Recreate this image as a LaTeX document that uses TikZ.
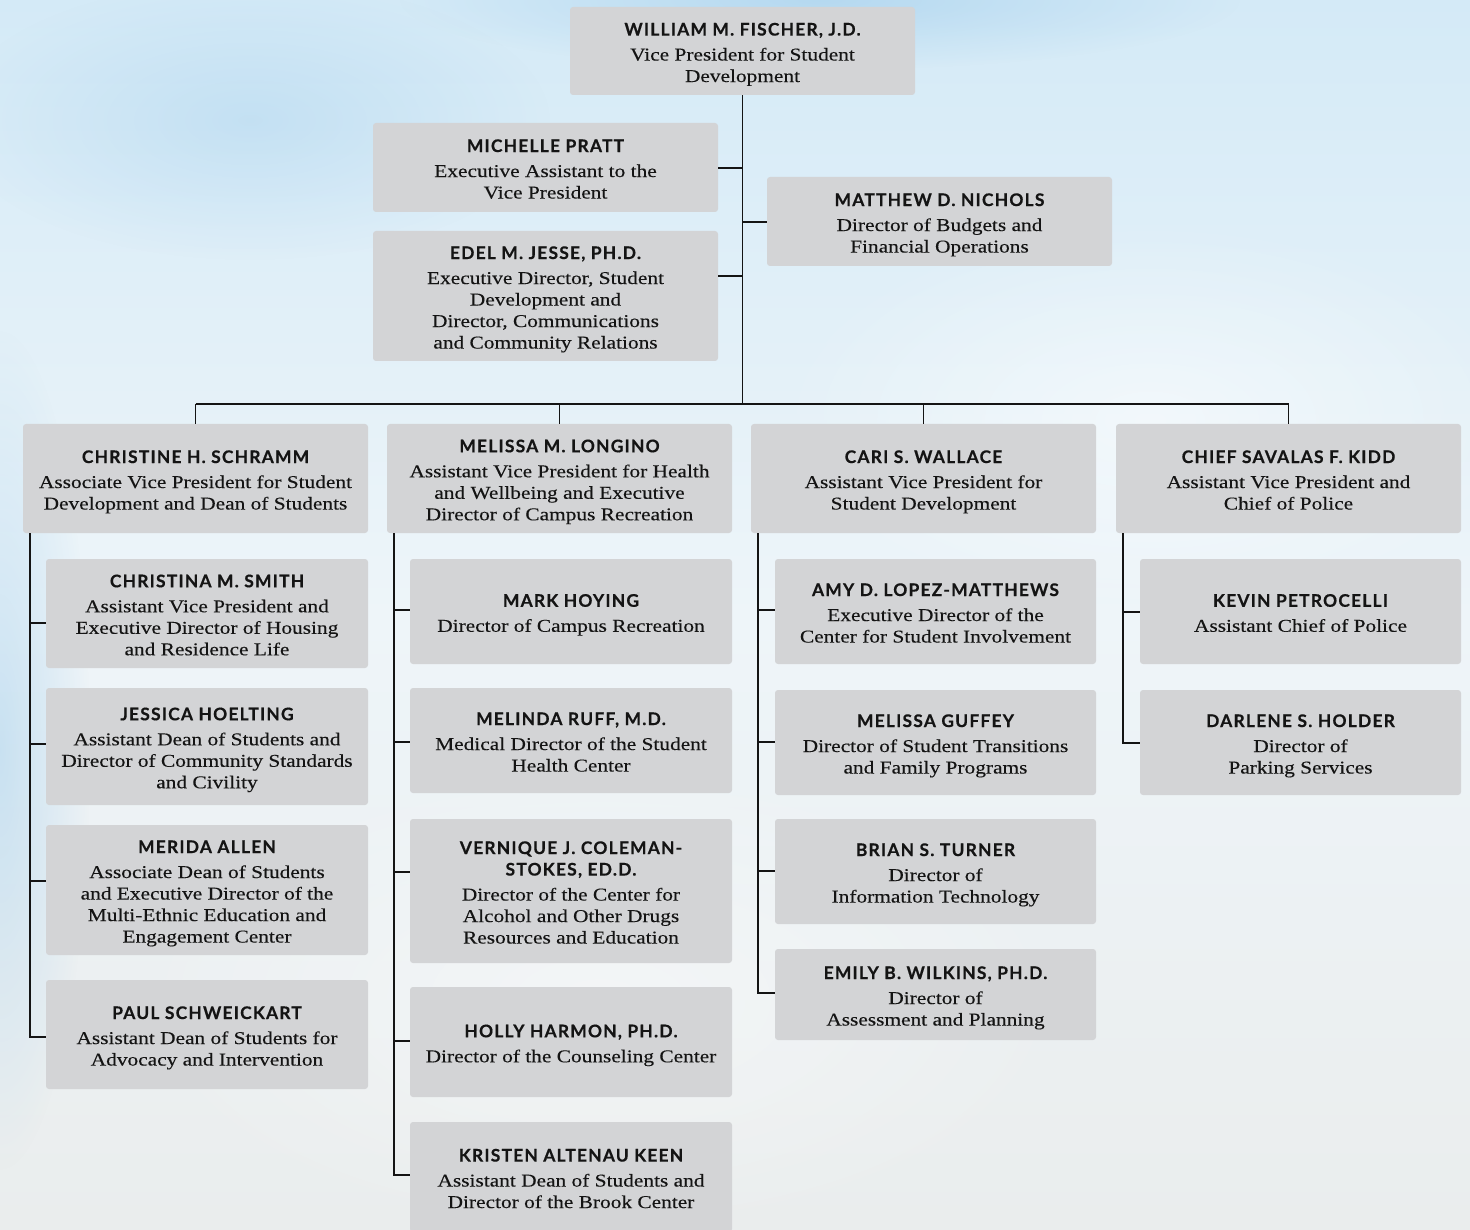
\documentclass[tikz,border=0pt]{standalone}
\usepackage{fontspec}
\setmainfont{Liberation Serif}[FakeStretch=1.18,FakeBold=0.25]
\newfontfamily\namefont{Lato}[LetterSpace=7,FakeBold=0.5]
\usetikzlibrary{fadings}
\definecolor{boxgray}{HTML}{D3D4D6}
\definecolor{ink}{HTML}{141414}
\definecolor{skytop}{HTML}{D4EAF7}
\definecolor{skymid}{HTML}{EEF5F9}
\definecolor{skybot}{HTML}{EAEDED}
\definecolor{skyblue}{HTML}{9CCBEB}
\tikzfading[name=softedge, inner color=transparent!0, outer color=transparent!100]
\tikzset{
  box/.style={fill=boxgray, rounded corners=3pt, inner sep=0pt,
    text=ink, font=\fontsize{18.1}{21.5}\selectfont},
  conn/.style={draw=ink, line width=1.8pt},
  blob/.style={path fading=softedge},
}
\newcommand{\nm}[1]{{\namefont\bfseries\fontsize{17.4}{21.5}\selectfont #1}\\[3.5pt]}
\newcommand{\nmm}[1]{{\namefont\bfseries\fontsize{17.4}{21.5}\selectfont #1}\\}
\newcommand{\orgbox}[6]{\node[box, minimum width={#4-#2}, minimum height={#5-#3}] (#1) at ({(#2+#4)/2},{(#3+#5)/2})
  {\raisebox{-3.5pt}[\height][\depth]{\begin{tabular}{@{}c@{}}#6\end{tabular}}};}
\begin{document}
\begin{tikzpicture}[x=1pt,y=-1pt]
% background sky
\fill[top color=skytop, bottom color=skybot, middle color=skymid] (0,0) rectangle (1470,1230);
\useasboundingbox (0,0) rectangle (1470,1230);
\fill[skyblue, opacity=0.55, blob] (820,0) ellipse (420 and 70);
\fill[skyblue, opacity=0.35, blob] (250,120) ellipse (300 and 140);
\fill[skyblue, opacity=0.45, blob] (0,750) ellipse (90 and 420);
\fill[white, opacity=0.5, blob] (1150,420) ellipse (380 and 200);
\fill[white, opacity=0.4, blob] (600,1000) ellipse (500 and 250);

% level 0 / staff
\orgbox{fischer}{570}{7}{915}{95}{\nm{WILLIAM M. FISCHER, J.D.}Vice President for Student\\Development}
\orgbox{pratt}{373}{123}{718}{212}{\nm{MICHELLE PRATT}Executive Assistant to the\\Vice President}
\orgbox{jesse}{373}{231}{718}{361}{\nm{EDEL M. JESSE, PH.D.}Executive Director, Student\\Development and\\Director, Communications\\and Community Relations}
\orgbox{nichols}{767}{177}{1112}{266}{\nm{MATTHEW D. NICHOLS}Director of Budgets and\\Financial Operations}

% level 1
\orgbox{schramm}{23}{424}{368}{533}{\nm{CHRISTINE H. SCHRAMM}Associate Vice President for Student\\Development and Dean of Students}
\orgbox{longino}{387}{424}{732}{533}{\nm{MELISSA M. LONGINO}Assistant Vice President for Health\\and Wellbeing and Executive\\Director of Campus Recreation}
\orgbox{wallace}{751}{424}{1096}{533}{\nm{CARI S. WALLACE}Assistant Vice President for\\Student Development}
\orgbox{kidd}{1116}{424}{1461}{533}{\nm{CHIEF SAVALAS F. KIDD}Assistant Vice President and\\Chief of Police}

% column 1
\orgbox{smith}{46}{559}{368}{668}{\nm{CHRISTINA M. SMITH}Assistant Vice President and\\Executive Director of Housing\\and Residence Life}
\orgbox{hoelting}{46}{688}{368}{805}{\nm{JESSICA HOELTING}Assistant Dean of Students and\\Director of Community Standards\\and Civility}
\orgbox{allen}{46}{825}{368}{955}{\nm{MERIDA ALLEN}Associate Dean of Students\\and Executive Director of the\\Multi-Ethnic Education and\\Engagement Center}
\orgbox{schweickart}{46}{980}{368}{1089}{\nm{PAUL SCHWEICKART}Assistant Dean of Students for\\Advocacy and Intervention}

% column 2
\orgbox{hoying}{410}{559}{732}{664}{\nm{MARK HOYING}Director of Campus Recreation}
\orgbox{ruff}{410}{688}{732}{793}{\nm{MELINDA RUFF, M.D.}Medical Director of the Student\\Health Center}
\orgbox{coleman}{410}{819}{732}{963}{\nmm{VERNIQUE J. COLEMAN-}\nm{STOKES, ED.D.}Director of the Center for\\Alcohol and Other Drugs\\Resources and Education}
\orgbox{harmon}{410}{987}{732}{1097}{\nm{HOLLY HARMON, PH.D.}Director of the Counseling Center}
\orgbox{keen}{410}{1122}{732}{1232}{\nm{KRISTEN ALTENAU KEEN}Assistant Dean of Students and\\Director of the Brook Center}

% column 3
\orgbox{lopez}{775}{559}{1096}{664}{\nm{AMY D. LOPEZ-MATTHEWS}Executive Director of the\\Center for Student Involvement}
\orgbox{guffey}{775}{690}{1096}{795}{\nm{MELISSA GUFFEY}Director of Student Transitions\\and Family Programs}
\orgbox{turner}{775}{819}{1096}{924}{\nm{BRIAN S. TURNER}Director of\\Information Technology}
\orgbox{wilkins}{775}{949}{1096}{1040}{\nm{EMILY B. WILKINS, PH.D.}Director of\\Assessment and Planning}

% column 4
\orgbox{petrocelli}{1140}{559}{1461}{664}{\nm{KEVIN PETROCELLI}Assistant Chief of Police}
\orgbox{holder}{1140}{690}{1461}{795}{\nm{DARLENE S. HOLDER}Director of\\Parking Services}

% connectors: trunk and staff
\coordinate (bus) at (742,404);
\draw[conn] (fischer.south) -- (fischer.south |- bus);
\coordinate (ps) at (742,168);
\coordinate (js) at (742,276);
\coordinate (ns) at (742,222);
\draw[conn] (ps) -- (pratt.east |- ps);
\draw[conn] (js) -- (jesse.east |- js);
\draw[conn] (ns) -- (nichols.west |- ns);
% bus
\draw[conn] (schramm.north |- bus) -- (kidd.north |- bus);
\foreach \n in {schramm,longino,wallace,kidd}{\draw[conn] (\n.north |- bus) -- (\n.north);}

% column verticals
\coordinate (c1) at (30,1037);
\draw[conn] (schramm.south -| c1) |- (schweickart.west |- c1);
\foreach \n/\y in {smith/623,hoelting/744,allen/881}{\coordinate (tmp) at (30,\y); \draw[conn] (tmp) -- (\n.west |- tmp);}

\coordinate (c2) at (394,1175);
\draw[conn] (longino.south -| c2) |- (keen.west |- c2);
\foreach \n/\y in {hoying/610,ruff/742,coleman/872,harmon/1041}{\coordinate (tmp) at (394,\y); \draw[conn] (tmp) -- (\n.west |- tmp);}

\coordinate (c3) at (758,993);
\draw[conn] (wallace.south -| c3) |- (wilkins.west |- c3);
\foreach \n/\y in {lopez/610,guffey/742,turner/871}{\coordinate (tmp) at (758,\y); \draw[conn] (tmp) -- (\n.west |- tmp);}

\coordinate (c4) at (1123,743);
\draw[conn] (kidd.south -| c4) |- (holder.west |- c4);
\coordinate (tmp) at (1123,612); \draw[conn] (tmp) -- (petrocelli.west |- tmp);
\end{tikzpicture}
\end{document}
